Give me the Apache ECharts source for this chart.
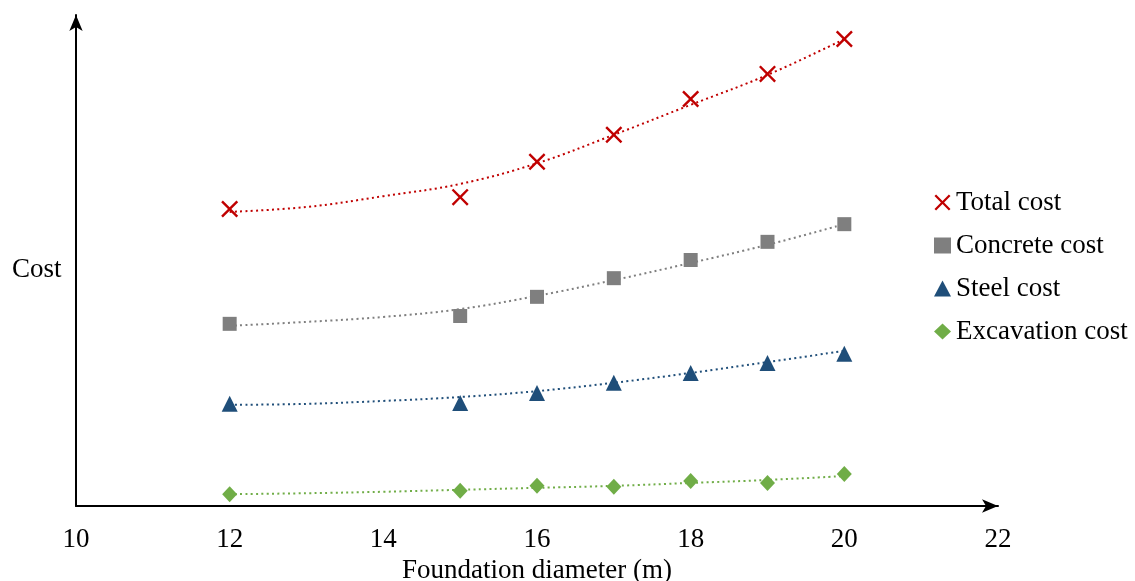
<!DOCTYPE html>
<html>
<head>
<meta charset="utf-8">
<script src="https://cdn.jsdelivr.net/npm/echarts@6/dist/echarts.min.js"></script>
<style>
  html, body { margin: 0; padding: 0; background: #fff; overflow: hidden; }
  #chart { width: 1135px; height: 581px; }
</style>
</head>
<body>
<div id="chart"></div>
<script>
// ---- data ----
const xValues = [12, 15, 16, 17, 18, 19, 20];
const totalCost = [60.5, 62.9, 70.1, 75.6, 82.9, 88.0, 95.1];
const concreteCost = [37.1, 38.7, 42.6, 46.4, 50.1, 53.8, 57.4];
const steelCost = [20.8, 21.0, 23.0, 25.1, 27.1, 29.1, 31.0];
const excavationCost = [2.4, 3.1, 4.1, 3.9, 5.1, 4.7, 6.5];

// trend lines
const trendX = [12, 13, 14, 15, 16, 17, 18, 19, 20];
const totalTrend = [59.9, 60.9, 63.1, 65.6, 69.8, 75.6, 81.7, 87.8, 95.1];
const concreteTrend = [36.7, 37.5, 38.5, 40.1, 42.8, 46.0, 49.5, 53.2, 57.4];
const steelTrend = [20.6, 20.8, 21.4, 22.2, 23.4, 25.1, 27.1, 29.3, 31.6];
const excavationTrend = [2.4, 2.6, 2.9, 3.3, 3.7, 4.1, 4.7, 5.3, 6.1];

const seriesNames = ['Total cost', 'Concrete cost', 'Steel cost', 'Excavation cost'];
const xAxisName = 'Foundation diameter (m)';
const yAxisName = 'Cost';

// ---- styling ----
const FONT = 'Liberation Serif';
const FS = 27;
const colors = ['#C00000', '#7F7F7F', '#1F4E79', '#70AD47'];
const crossPath = 'path://M0,10L10,0L50,40L90,0L100,10L60,50L100,90L90,100L50,60L10,100L0,90L40,50Z';
const symbols = [crossPath, 'rect', 'triangle', 'diamond'];
const symbolSizes = [17, 14, 16, [15, 16]];

const pair = (xs, ys) => xs.map((x, i) => [x, ys[i]]);
const values = [totalCost, concreteCost, steelCost, excavationCost];
const trends = [totalTrend, concreteTrend, steelTrend, excavationTrend];

const series = [];
trends.forEach((t, i) => {
  series.push({
    type: 'line',
    name: seriesNames[i] + ' trend',
    data: pair(trendX, t),
    smooth: 0.4,
    showSymbol: false,
    silent: true,
    z: 2,
    lineStyle: { color: colors[i], width: 2, type: [2, 3.3] }
  });
});
values.forEach((v, i) => {
  series.push({
    type: 'scatter',
    name: seriesNames[i],
    data: pair(xValues, v),
    symbol: symbols[i],
    symbolSize: symbolSizes[i],
    z: 5,
    itemStyle: { color: colors[i], opacity: 1 }
  });
});

const chart = echarts.init(document.getElementById('chart'), null, { renderer: 'canvas' });
chart.setOption({
  animation: false,
  backgroundColor: '#ffffff',
  grid: { left: 76, right: 137, top: 15, bottom: 75, containLabel: false, outerBoundsMode: 'none' },
  xAxis: {
    type: 'value',
    min: 10, max: 22, interval: 2,
    name: xAxisName,
    nameLocation: 'middle',
    nameGap: 48,
    nameTextStyle: { fontFamily: FONT, fontSize: FS, color: '#000' },
    axisLine: {
      show: true,
      lineStyle: { color: '#000', width: 2 },
      symbol: ['none', 'arrow'],
      symbolSize: [10, 16],
      symbolOffset: [0, 0]
    },
    axisTick: { show: false },
    axisLabel: { fontFamily: FONT, fontSize: FS, color: '#000', margin: 20 },
    splitLine: { show: false }
  },
  yAxis: {
    type: 'value',
    min: 0, max: 100,
    axisLine: {
      show: true,
      lineStyle: { color: '#000', width: 2 },
      symbol: ['none', 'arrow'],
      symbolSize: [10, 16],
      symbolOffset: [0, 0]
    },
    axisTick: { show: false },
    axisLabel: { show: false },
    splitLine: { show: false }
  },
  legend: {
    data: seriesNames,
    orient: 'vertical',
    left: 934,
    top: 189,
    itemWidth: 17,
    itemHeight: 16,
    itemGap: 16,
    padding: 0,
    textStyle: { fontFamily: FONT, fontSize: FS, color: '#000', lineHeight: 27 }
  },
  graphic: [{
    type: 'text',
    left: 12,
    top: 256,
    style: { text: yAxisName, font: FS + 'px "Liberation Serif"', fill: '#000' }
  }],
  series: series
});
</script>
</body>
</html>
